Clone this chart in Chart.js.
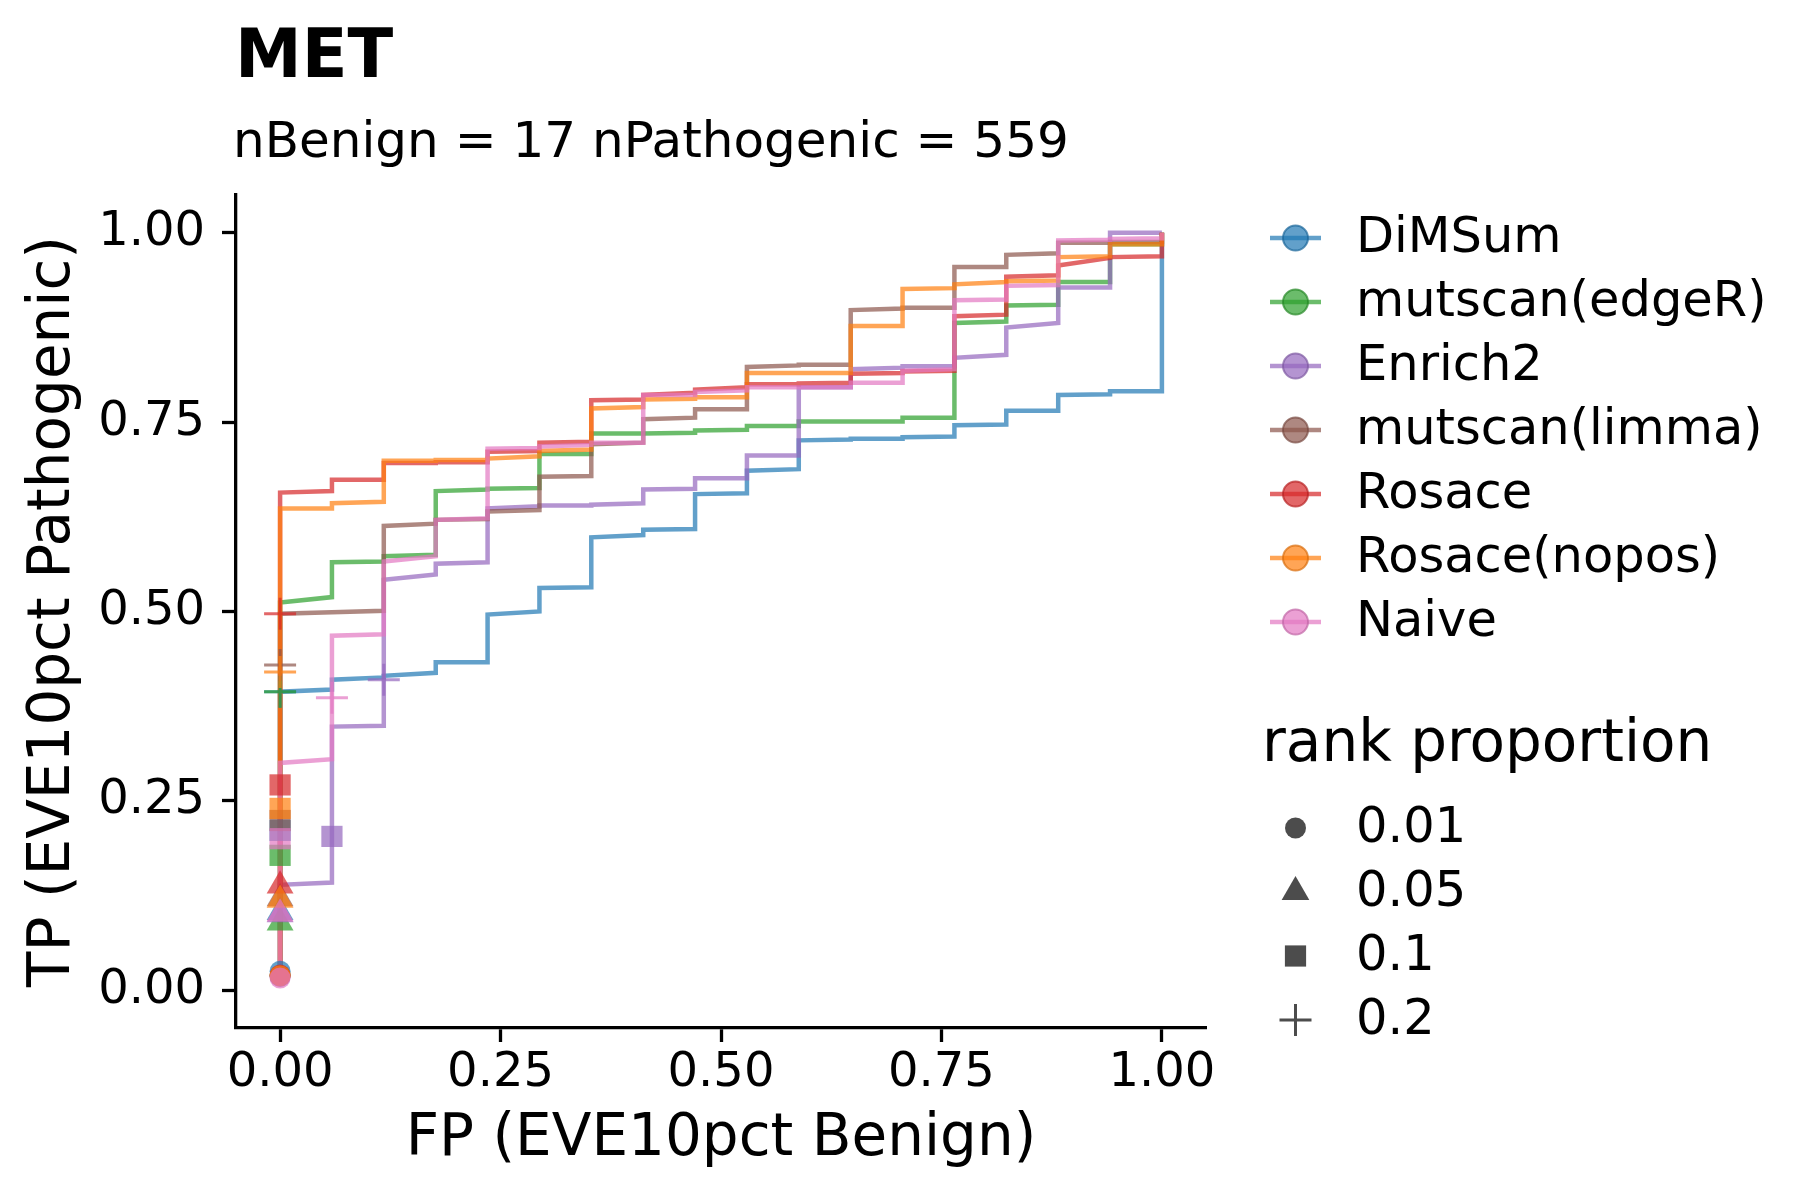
<!DOCTYPE html>
<html><head><meta charset="utf-8">
<script src="https://cdn.jsdelivr.net/npm/chart.js@4.4.1/dist/chart.umd.min.js"></script>
<style>html,body{margin:0;padding:0;background:#fff;}canvas{display:block;}</style>
</head><body>
<canvas id="c" width="1800" height="1200"></canvas>
<script>
// ---------- text ----------
const chartTitle = 'MET';
const chartSubtitle = 'nBenign = 17 nPathogenic = 559';
const xAxisTitle = 'FP (EVE10pct Benign)';
const yAxisTitle = 'TP (EVE10pct Pathogenic)';
const legendShapeTitle = 'rank proportion';

// ---------- categories ----------
const methods = ['DiMSum', 'mutscan(edgeR)', 'Enrich2', 'mutscan(limma)', 'Rosace', 'Rosace(nopos)', 'Naive'];
const rankProportions = ['0.01', '0.05', '0.1', '0.2'];

// ---------- ticks ----------
const axisTicks = [0, 0.25, 0.5, 0.75, 1];
const axisTickLabels = ['0.00', '0.25', '0.50', '0.75', '1.00'];

// ---------- ROC steps (FP positions, k/17) ----------
const fpSteps = [0, 0.0588, 0.1176, 0.1765, 0.2353, 0.2941, 0.3529, 0.4118, 0.4706, 0.5294, 0.5882, 0.6471, 0.7059, 0.7647, 0.8235, 0.8824, 0.9412, 1];

// TP at each FP step: value entering the step (lo) and after the vertical rise (hi)
const dimsumLo = [0.01, 0.397, 0.413, 0.419, 0.433, 0.500, 0.532, 0.601, 0.609, 0.656, 0.688, 0.727, 0.728, 0.731, 0.747, 0.765, 0.787, 0.791];
const dimsumHi = [0.394, 0.410, 0.415, 0.433, 0.496, 0.531, 0.598, 0.608, 0.655, 0.686, 0.726, 0.728, 0.730, 0.746, 0.765, 0.786, 0.791, 1.0];

const edgerLo = [0.01, 0.519, 0.566, 0.575, 0.661, 0.663, 0.708, 0.735, 0.736, 0.740, 0.745, 0.751, 0.751, 0.756, 0.883, 0.905, 0.935, 0.985];
const edgerHi = [0.512, 0.565, 0.573, 0.659, 0.662, 0.708, 0.735, 0.735, 0.739, 0.745, 0.751, 0.751, 0.756, 0.881, 0.904, 0.935, 0.985, 1.0];

const enrich2Lo = [0.01, 0.142, 0.349, 0.549, 0.565, 0.639, 0.640, 0.643, 0.662, 0.676, 0.706, 0.796, 0.822, 0.824, 0.839, 0.881, 0.928, 1.0];
const enrich2Hi = [0.139, 0.348, 0.542, 0.563, 0.636, 0.640, 0.641, 0.661, 0.676, 0.706, 0.796, 0.820, 0.824, 0.835, 0.875, 0.928, 1.0, 1.0];

const limmaLo = [0.01, 0.499, 0.501, 0.616, 0.622, 0.634, 0.679, 0.723, 0.756, 0.767, 0.825, 0.826, 0.900, 0.901, 0.955, 0.973, 0.987, 0.988];
const limmaHi = [0.497, 0.499, 0.613, 0.621, 0.632, 0.678, 0.721, 0.754, 0.767, 0.823, 0.826, 0.898, 0.901, 0.955, 0.971, 0.987, 0.988, 1.0];

const rosaceLo = [0.01, 0.659, 0.674, 0.696, 0.697, 0.712, 0.724, 0.780, 0.789, 0.796, 0.800, 0.802, 0.815, 0.818, 0.892, 0.944, 0.967, 0.969];
const rosaceHi = [0.657, 0.674, 0.696, 0.697, 0.711, 0.723, 0.779, 0.786, 0.793, 0.800, 0.801, 0.814, 0.817, 0.890, 0.942, 0.957, 0.968, 1.0];

const noposLo = [0.01, 0.636, 0.645, 0.699, 0.700, 0.705, 0.714, 0.770, 0.781, 0.783, 0.815, 0.815, 0.877, 0.927, 0.935, 0.937, 0.969, 0.985];
const noposHi = [0.636, 0.643, 0.699, 0.700, 0.702, 0.712, 0.768, 0.780, 0.783, 0.815, 0.815, 0.877, 0.926, 0.932, 0.936, 0.968, 0.985, 1.0];

const naiveLo = [0.01, 0.305, 0.470, 0.573, 0.623, 0.716, 0.720, 0.723, 0.786, 0.792, 0.796, 0.796, 0.802, 0.820, 0.912, 0.931, 0.991, 0.993];
const naiveHi = [0.300, 0.468, 0.566, 0.621, 0.715, 0.718, 0.723, 0.786, 0.790, 0.796, 0.796, 0.802, 0.818, 0.911, 0.930, 0.990, 0.992, 1.0];

// ---------- rank-proportion markers (FP, TP) for 0.01, 0.05, 0.1, 0.2 ----------
const dimsumMarkFP  = [0, 0, 0, 0];
const dimsumMarkTP  = [0.025, 0.103, 0.211, 0.394];
const edgerMarkFP   = [0, 0, 0, 0];
const edgerMarkTP   = [0.019, 0.089, 0.178, 0.394];
const enrich2MarkFP = [0, 0, 0.0588, 0.1176];
const enrich2MarkTP = [0.018, 0.100, 0.203, 0.410];
const limmaMarkFP   = [0, 0, 0, 0];
const limmaMarkTP   = [0.019, 0.121, 0.224, 0.4295];
const rosaceMarkFP  = [0, 0, 0, 0];
const rosaceMarkTP  = [0.020, 0.138, 0.271, 0.497];
const noposMarkFP   = [0, 0, 0, 0];
const noposMarkTP   = [0.019, 0.119, 0.240, 0.420];
const naiveMarkFP   = [0, 0, 0, 0.0588];
const naiveMarkTP   = [0.016, 0.101, 0.200, 0.386];

// ---------- styles ----------
const methodColors = [[31,119,180],[44,160,44],[148,103,189],[140,86,75],[214,39,40],[255,127,14],[227,119,194]];
const ALPHA = 0.7;
const FONT = '"DejaVu Sans", "Liberation Sans", sans-serif';
const rgba = (c, a) => `rgba(${c[0]},${c[1]},${c[2]},${a})`;

const curveLo = [dimsumLo, edgerLo, enrich2Lo, limmaLo, rosaceLo, noposLo, naiveLo];
const curveHi = [dimsumHi, edgerHi, enrich2Hi, limmaHi, rosaceHi, noposHi, naiveHi];
const markFP = [dimsumMarkFP, edgerMarkFP, enrich2MarkFP, limmaMarkFP, rosaceMarkFP, noposMarkFP, naiveMarkFP];
const markTP = [dimsumMarkTP, edgerMarkTP, enrich2MarkTP, limmaMarkTP, rosaceMarkTP, noposMarkTP, naiveMarkTP];

const shapeStyles = ['circle', 'triangle', 'rect', 'cross'];
const shapeRadius = [10.5, 15.5, 15, 16];

const datasets = [];
methods.forEach((m, i) => {
  const pts = [];
  fpSteps.forEach((x, k) => {
    pts.push({x: x, y: curveLo[i][k]});
    pts.push({x: x, y: curveHi[i][k]});
  });
  datasets.push({
    type: 'line',
    label: m,
    data: pts,
    borderColor: rgba(methodColors[i], ALPHA),
    backgroundColor: rgba(methodColors[i], ALPHA),
    borderWidth: 4.5,
    borderJoinStyle: 'miter',
    borderCapStyle: 'butt',
    pointRadius: 0,
    pointHoverRadius: 0,
    tension: 0,
    fill: false,
    order: 30 - i
  });
});
methods.forEach((m, i) => {
  const pts = markFP[i].map((x, j) => ({x: x, y: markTP[i][j]}));
  datasets.push({
    type: 'scatter',
    label: m + ' rank',
    data: pts,
    showLine: false,
    pointStyle: shapeStyles,
    pointRadius: shapeRadius,
    pointBackgroundColor: rgba(methodColors[i], ALPHA),
    pointBorderColor: rgba(methodColors[i], ALPHA),
    pointBorderWidth: [0, 0, 0, 3],
    order: 15 - i
  });
});

const PLOT_LEFT = 236, PLOT_RIGHT = 1206, PLOT_TOP = 195, PLOT_BOTTOM = 1028;

const decorPlugin = {
  id: 'decor',
  afterDraw(chart) {
    const ctx = chart.ctx;
    ctx.save();
    ctx.fillStyle = '#000';
    ctx.textAlign = 'left';
    ctx.textBaseline = 'alphabetic';
    ctx.font = `bold 67px ${FONT}`;
    ctx.fillText(chartTitle, 235, 77);
    ctx.font = `50px ${FONT}`;
    ctx.fillText(chartSubtitle, 233, 157);

    // method legend
    const legY0 = 238, legDY = 64;
    methods.forEach((m, i) => {
      const y = legY0 + i * legDY;
      ctx.strokeStyle = rgba(methodColors[i], ALPHA);
      ctx.lineWidth = 4.5;
      ctx.beginPath(); ctx.moveTo(1270, y); ctx.lineTo(1321, y); ctx.stroke();
      ctx.beginPath(); ctx.arc(1295.5, y, 12.5, 0, Math.PI * 2);
      ctx.fillStyle = rgba(methodColors[i], ALPHA); ctx.fill();
      ctx.lineWidth = 2; ctx.strokeStyle = rgba(methodColors[i].map(v => Math.round(v * 0.85)), ALPHA); ctx.stroke();
      ctx.fillStyle = '#000';
      ctx.font = `49.5px ${FONT}`;
      ctx.textBaseline = 'middle';
      ctx.fillText(m, 1356, y + 1);
    });

    // shape legend
    ctx.textBaseline = 'alphabetic';
    ctx.font = `58px ${FONT}`;
    ctx.fillStyle = '#000';
    ctx.fillText(legendShapeTitle, 1262, 761);
    const shY = [828, 892, 956, 1020];
    const grey = 'rgba(0,0,0,0.7)';
    rankProportions.forEach((r, j) => {
      const y = shY[j];
      ctx.fillStyle = grey; ctx.strokeStyle = grey; ctx.lineWidth = 3;
      Chart.helpers.drawPoint(ctx, {
        pointStyle: shapeStyles[j], radius: j === 1 ? 16 : shapeRadius[j], rotation: 0,
        borderWidth: j === 3 ? 3 : 0
      }, 1295.5, y);
      ctx.fillStyle = '#000';
      ctx.textBaseline = 'middle';
      ctx.font = `49.5px ${FONT}`;
      ctx.fillText(r, 1356, y + 1);
    });
    ctx.restore();
  }
};

Chart.defaults.font.family = FONT;
Chart.defaults.color = '#000';

new Chart(document.getElementById('c'), {
  type: 'scatter',
  data: { datasets: datasets },
  options: {
    responsive: false,
    animation: false,
    devicePixelRatio: 1,
    layout: { padding: { left: 0, right: 1800 - PLOT_RIGHT, top: PLOT_TOP, bottom: 0 } },
    plugins: { legend: { display: false }, tooltip: { enabled: false }, title: { display: false } },
    scales: {
      x: {
        type: 'linear', position: 'bottom', min: -0.05, max: 1.05,
        afterFit(s) { s.height = 1200 - PLOT_BOTTOM; },
        afterBuildTicks(s) { s.ticks = axisTicks.map(v => ({ value: v })); },
        ticks: {
          callback: (v) => { const i = axisTicks.indexOf(v); return i >= 0 ? axisTickLabels[i] : ''; },
          font: { size: 48, family: FONT }, color: '#000', padding: 3, maxRotation: 0, autoSkip: false
        },
        grid: { drawOnChartArea: false, drawTicks: true, tickLength: 14, tickWidth: 3.3, tickColor: '#000' },
        border: { display: true, color: '#000', width: 3.3 },
        title: { display: true, text: xAxisTitle, font: { size: 58, family: FONT }, color: '#000', padding: { top: 0, bottom: 25 } }
      },
      y: {
        type: 'linear', position: 'left', min: -0.05, max: 1.05,
        afterFit(s) { s.width = PLOT_LEFT; },
        afterBuildTicks(s) { s.ticks = axisTicks.map(v => ({ value: v })); },
        ticks: {
          callback: (v) => { const i = axisTicks.indexOf(v); return i >= 0 ? axisTickLabels[i] : ''; },
          font: { size: 48, family: FONT }, color: '#000', padding: 17, autoSkip: false
        },
        grid: { drawOnChartArea: false, drawTicks: true, tickLength: 14, tickWidth: 3.3, tickColor: '#000' },
        border: { display: true, color: '#000', width: 3.3 },
        title: { display: true, text: yAxisTitle, font: { size: 58, family: FONT }, color: '#000', padding: { top: 19, bottom: 0 } }
      }
    }
  },
  plugins: [decorPlugin]
});
</script>
</body></html>
